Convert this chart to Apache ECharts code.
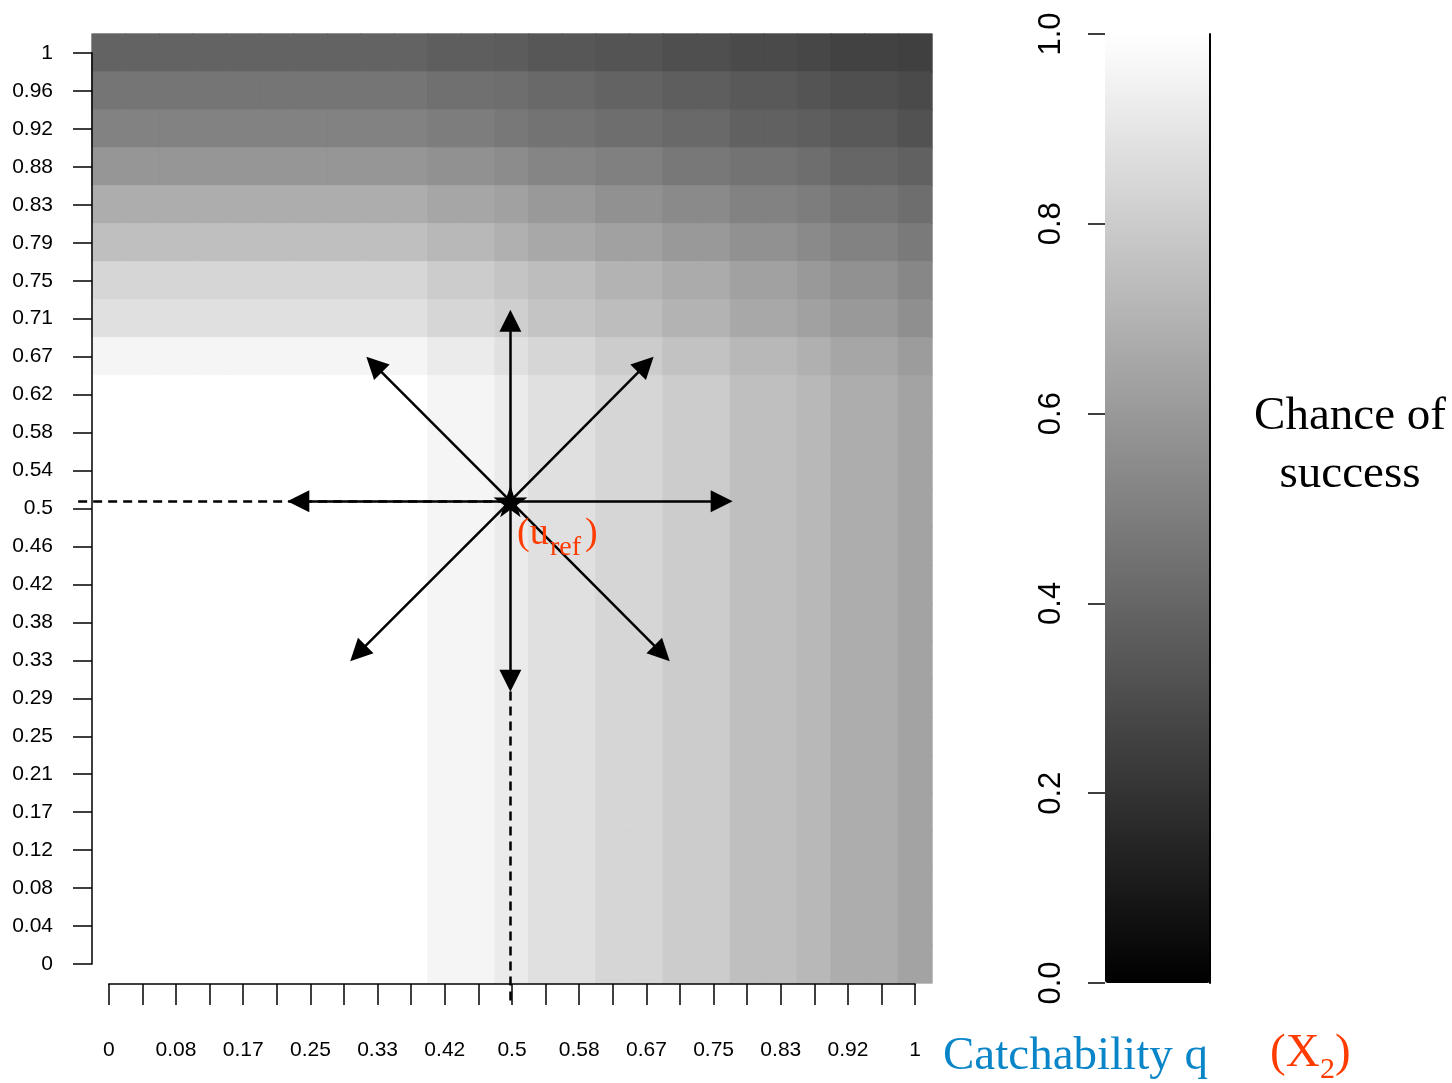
<!DOCTYPE html>
<html>
<head>
<meta charset="utf-8">
<script src="https://cdn.jsdelivr.net/npm/echarts@6/dist/echarts.min.js"></script>
<style>
  html, body { margin: 0; padding: 0; background: #ffffff; }
  #chart { width: 1452px; height: 1083px; }
</style>
</head>
<body>
<div id="chart"></div>
<script>
// ---------------- DATA ----------------
const xTickLabels = ['0','0.04','0.08','0.12','0.17','0.21','0.25','0.29','0.33','0.38','0.42','0.46','0.5','0.54','0.58','0.62','0.67','0.71','0.75','0.79','0.83','0.88','0.92','0.96','1'];
const yTickLabels = ['0','0.04','0.08','0.12','0.17','0.21','0.25','0.29','0.33','0.38','0.42','0.46','0.5','0.54','0.58','0.62','0.67','0.71','0.75','0.79','0.83','0.88','0.92','0.96','1'];
const colorbarTicks = [0, 0.2, 0.4, 0.6, 0.8, 1];

// chance of success per cell, rows listed from top (y = 1) down to bottom (y = 0), columns x = 0 .. 1
const chanceRowsTopDown = [
  [0.39,0.39,0.39,0.39,0.39,0.39,0.39,0.39,0.39,0.39,0.37,0.37,0.36,0.34,0.34,0.33,0.33,0.31,0.31,0.29,0.29,0.28,0.26,0.26,0.25],
  [0.46,0.46,0.46,0.46,0.46,0.46,0.46,0.46,0.46,0.46,0.44,0.44,0.43,0.41,0.41,0.39,0.39,0.37,0.37,0.35,0.35,0.33,0.31,0.31,0.29],
  [0.51,0.51,0.51,0.51,0.51,0.51,0.51,0.51,0.51,0.51,0.49,0.49,0.47,0.45,0.45,0.43,0.43,0.41,0.41,0.38,0.38,0.37,0.35,0.35,0.32],
  [0.59,0.59,0.59,0.59,0.59,0.59,0.59,0.59,0.59,0.59,0.57,0.57,0.55,0.52,0.52,0.50,0.50,0.47,0.47,0.45,0.45,0.43,0.40,0.40,0.38],
  [0.68,0.68,0.68,0.68,0.68,0.68,0.68,0.68,0.68,0.68,0.65,0.65,0.63,0.60,0.60,0.57,0.57,0.54,0.54,0.51,0.51,0.49,0.46,0.46,0.43],
  [0.75,0.75,0.75,0.75,0.75,0.75,0.75,0.75,0.75,0.75,0.72,0.72,0.69,0.66,0.66,0.63,0.63,0.60,0.60,0.57,0.57,0.54,0.51,0.51,0.48],
  [0.84,0.84,0.84,0.84,0.84,0.84,0.84,0.84,0.84,0.84,0.80,0.80,0.77,0.74,0.74,0.70,0.70,0.67,0.67,0.63,0.63,0.60,0.57,0.57,0.53],
  [0.88,0.88,0.88,0.88,0.88,0.88,0.88,0.88,0.88,0.88,0.84,0.84,0.81,0.77,0.77,0.74,0.74,0.70,0.70,0.66,0.66,0.63,0.60,0.60,0.56],
  [0.96,0.96,0.96,0.96,0.96,0.96,0.96,0.96,0.96,0.96,0.92,0.92,0.88,0.84,0.84,0.80,0.80,0.76,0.76,0.72,0.72,0.69,0.65,0.65,0.61],
  [1,1,1,1,1,1,1,1,1,1,0.96,0.96,0.92,0.88,0.88,0.84,0.84,0.80,0.80,0.75,0.75,0.72,0.68,0.68,0.64],
  [1,1,1,1,1,1,1,1,1,1,0.96,0.96,0.92,0.88,0.88,0.84,0.84,0.80,0.80,0.75,0.75,0.72,0.68,0.68,0.64],
  [1,1,1,1,1,1,1,1,1,1,0.96,0.96,0.92,0.88,0.88,0.84,0.84,0.80,0.80,0.75,0.75,0.72,0.68,0.68,0.64],
  [1,1,1,1,1,1,1,1,1,1,0.96,0.96,0.92,0.88,0.88,0.84,0.84,0.80,0.80,0.75,0.75,0.72,0.68,0.68,0.64],
  [1,1,1,1,1,1,1,1,1,1,0.96,0.96,0.92,0.88,0.88,0.84,0.84,0.80,0.80,0.75,0.75,0.72,0.68,0.68,0.64],
  [1,1,1,1,1,1,1,1,1,1,0.96,0.96,0.92,0.88,0.88,0.84,0.84,0.80,0.80,0.75,0.75,0.72,0.68,0.68,0.64],
  [1,1,1,1,1,1,1,1,1,1,0.96,0.96,0.92,0.88,0.88,0.84,0.84,0.80,0.80,0.75,0.75,0.72,0.68,0.68,0.64],
  [1,1,1,1,1,1,1,1,1,1,0.96,0.96,0.92,0.88,0.88,0.84,0.84,0.80,0.80,0.75,0.75,0.72,0.68,0.68,0.64],
  [1,1,1,1,1,1,1,1,1,1,0.96,0.96,0.92,0.88,0.88,0.84,0.84,0.80,0.80,0.75,0.75,0.72,0.68,0.68,0.64],
  [1,1,1,1,1,1,1,1,1,1,0.96,0.96,0.92,0.88,0.88,0.84,0.84,0.80,0.80,0.75,0.75,0.72,0.68,0.68,0.64],
  [1,1,1,1,1,1,1,1,1,1,0.96,0.96,0.92,0.88,0.88,0.84,0.84,0.80,0.80,0.75,0.75,0.72,0.68,0.68,0.64],
  [1,1,1,1,1,1,1,1,1,1,0.96,0.96,0.92,0.88,0.88,0.84,0.84,0.80,0.80,0.75,0.75,0.72,0.68,0.68,0.64],
  [1,1,1,1,1,1,1,1,1,1,0.96,0.96,0.92,0.88,0.88,0.84,0.84,0.80,0.80,0.75,0.75,0.72,0.68,0.68,0.64],
  [1,1,1,1,1,1,1,1,1,1,0.96,0.96,0.92,0.88,0.88,0.84,0.84,0.80,0.80,0.75,0.75,0.72,0.68,0.68,0.64],
  [1,1,1,1,1,1,1,1,1,1,0.96,0.96,0.92,0.88,0.88,0.84,0.84,0.80,0.80,0.75,0.75,0.72,0.68,0.68,0.64],
  [1,1,1,1,1,1,1,1,1,1,0.96,0.96,0.92,0.88,0.88,0.84,0.84,0.80,0.80,0.75,0.75,0.72,0.68,0.68,0.64]
];

// reference point and the eight direction arrows (arrow-head centres), in axis units
const uRef = [0.498, 0.508];
const arrowHeads = [
  [0.498, 0.706], [0.498, 0.311], [0.760, 0.508], [0.235, 0.508],
  [0.329, 0.658], [0.666, 0.658], [0.309, 0.341], [0.686, 0.341]
];
// dashed guide lines
const guideLines = [
  [[-0.038, 0.508], [0.498, 0.508]],
  [[0.498, -0.040], [0.498, 0.311]]
];

// ---------------- BUILD ----------------
const grayOf = v => { const g = Math.round(v * 255); return 'rgb(' + g + ',' + g + ',' + g + ')'; };
const heatData = [];
const nRows = chanceRowsTopDown.length;
for (let i = 0; i < nRows; i++) {
  const r = nRows - 1 - i;
  chanceRowsTopDown[i].forEach((v, c) => heatData.push({
    value: [c, r, v],
    itemStyle: { borderColor: grayOf(v), borderWidth: 0.8 }
  }));
}

const SANS = '"Liberation Sans", Arial, sans-serif';
const SERIF = '"Liberation Serif", "Times New Roman", serif';
const RED = '#ff3c00';
const BLUE = '#0a86c8';

const axisLineStyle = { color: '#000', width: 1.5 };

const chart = echarts.init(document.getElementById('chart'), null, { renderer: 'canvas' });
chart.setOption({
  animation: false,
  backgroundColor: '#ffffff',
  grid: [
    { left: 92, top: 34, width: 840, height: 949 },
    { left: 108.8, top: 52.98, width: 806.4, height: 911.04 },
    { left: 1105, top: 34, width: 105, height: 949 }
  ],
  xAxis: [
    { gridIndex: 0, type: 'category', data: xTickLabels, show: false },
    {
      gridIndex: 1, type: 'value', min: 0, max: 1, interval: 1 / 24,
      position: 'bottom', offset: 20, z: 20,
      axisLine: { show: true, onZero: false, lineStyle: axisLineStyle },
      axisTick: { show: true, inside: false, length: 21, lineStyle: axisLineStyle },
      axisLabel: {
        margin: 56, fontSize: 21, fontFamily: SANS, color: '#000',
        formatter: v => { const i = Math.round(v * 24); return i % 2 === 0 ? (xTickLabels[i] || '') : ''; }
      },
      splitLine: { show: false }
    },
    { gridIndex: 2, type: 'value', min: 0, max: 1, show: false }
  ],
  yAxis: [
    { gridIndex: 0, type: 'category', data: yTickLabels, show: false },
    {
      gridIndex: 1, type: 'value', min: 0, max: 1, interval: 1 / 24,
      position: 'left', offset: 16.8, z: 20,
      axisLine: { show: true, onZero: false, lineStyle: axisLineStyle },
      axisTick: { show: true, inside: false, length: 19, lineStyle: axisLineStyle },
      axisLabel: {
        margin: 39, fontSize: 21, fontFamily: SANS, color: '#000', padding: [5, 0, 0, 0],
        formatter: v => yTickLabels[Math.round(v * 24)] || ''
      },
      splitLine: { show: false }
    },
    {
      gridIndex: 2, type: 'value', min: 0, max: 1, interval: 0.2,
      position: 'left', z: 20,
      axisLine: { show: false, onZero: false },
      axisTick: { show: true, inside: false, length: 17, lineStyle: axisLineStyle },
      axisLabel: {
        rotate: 90, margin: 38, fontSize: 31, fontFamily: SANS, color: '#000',
        formatter: v => v.toFixed(1)
      },
      splitLine: { show: false }
    },
    {
      gridIndex: 2, type: 'value', min: 0, max: 1,
      position: 'right', z: 20,
      axisLine: { show: true, onZero: false, lineStyle: { color: '#000', width: 2 } },
      axisTick: { show: false }, axisLabel: { show: false }, splitLine: { show: false }
    }
  ],
  visualMap: {
    type: 'continuous', min: 0, max: 1, seriesIndex: 0,
    calculable: false, hoverLink: false,
    inRange: { color: ['#000000', '#ffffff'] },
    itemWidth: 105, itemHeight: 949,
    left: 1105, top: 34, padding: 0,
    orient: 'vertical'
  },
  series: [
    {
      type: 'heatmap', xAxisIndex: 0, yAxisIndex: 0,
      data: heatData, silent: true, progressive: 0,
      emphasis: { disabled: true }
    },
    {
      type: 'lines', coordinateSystem: 'cartesian2d', xAxisIndex: 1, yAxisIndex: 1,
      clip: false, silent: true, z: 24,
      data: guideLines.map(c => ({ coords: c })),
      symbol: ['none', 'none'],
      lineStyle: { color: '#000', width: 2.5, opacity: 1, type: [9, 6] }
    },
    {
      type: 'lines', coordinateSystem: 'cartesian2d', xAxisIndex: 1, yAxisIndex: 1,
      clip: false, silent: true, z: 25,
      data: arrowHeads.map(e => ({ coords: [uRef, e] })),
      symbol: ['none', 'triangle'], symbolSize: 22,
      lineStyle: { color: '#000', width: 2.5, opacity: 1 },
      itemStyle: { color: '#000' }
    },
    {
      type: 'scatter', xAxisIndex: 1, yAxisIndex: 1, silent: true, z: 26,
      data: [uRef],
      symbol: 'path://M50,0 L61,35 L98,35 L68,57 L79,91 L50,70 L21,91 L32,57 L2,35 L39,35 Z',
      symbolSize: [34, 32],
      itemStyle: { color: '#000', opacity: 1 }
    }
  ],
  graphic: [
    { type: 'text', x: 1350, y: 446, silent: true,
      style: { text: 'Chance of\nsuccess', font: '47px ' + SERIF, fill: '#000', align: 'center', verticalAlign: 'middle', lineHeight: 58 } },
    { type: 'text', x: 943, y: 1057, silent: true,
      style: { text: 'Catchability q', font: '47px ' + SERIF, fill: BLUE, align: 'left', verticalAlign: 'middle' } },
    { type: 'text', x: 1270, y: 1054, silent: true,
      style: { text: '(X', font: '47px ' + SERIF, fill: RED, align: 'left', verticalAlign: 'middle' } },
    { type: 'text', x: 1320, y: 1070, silent: true,
      style: { text: '2', font: '30px ' + SERIF, fill: RED, align: 'left', verticalAlign: 'middle' } },
    { type: 'text', x: 1335, y: 1054, silent: true,
      style: { text: ')', font: '47px ' + SERIF, fill: RED, align: 'left', verticalAlign: 'middle' } },
    { type: 'text', x: 517, y: 534, silent: true, z: 100,
      style: { text: '(u', font: '38px ' + SERIF, fill: RED, align: 'left', verticalAlign: 'middle' } },
    { type: 'text', x: 550, y: 548, silent: true, z: 100,
      style: { text: 'ref', font: '28px ' + SERIF, fill: RED, align: 'left', verticalAlign: 'middle' } },
    { type: 'text', x: 585, y: 534, silent: true, z: 100,
      style: { text: ')', font: '38px ' + SERIF, fill: RED, align: 'left', verticalAlign: 'middle' } }
  ]
});
</script>
</body>
</html>
